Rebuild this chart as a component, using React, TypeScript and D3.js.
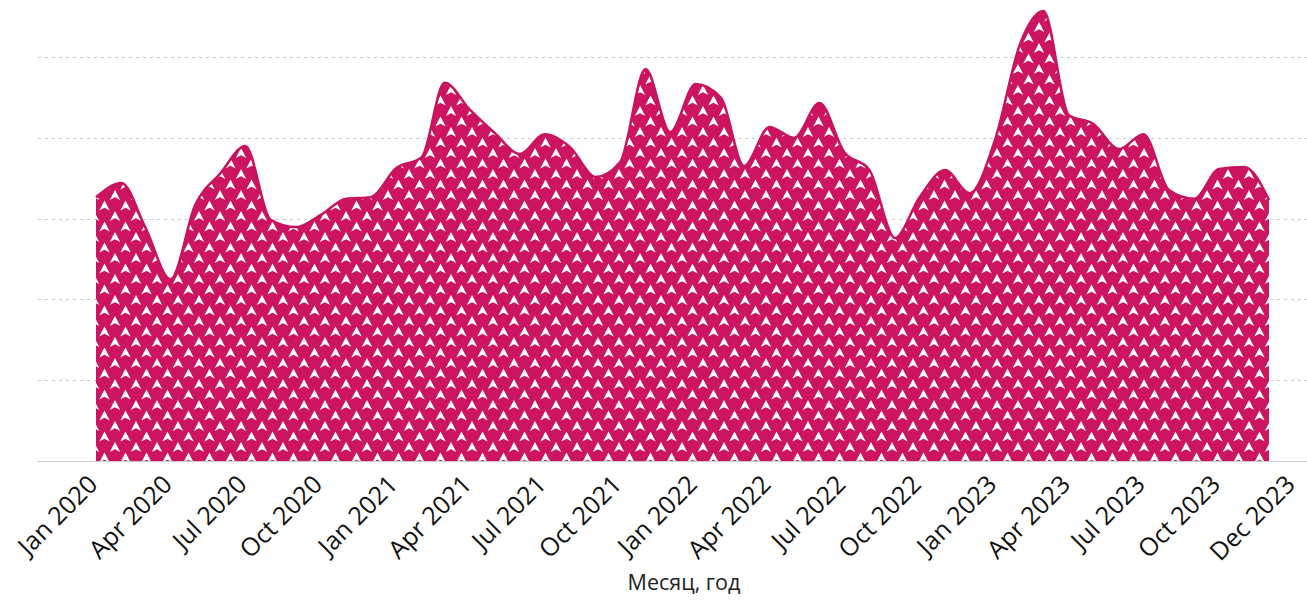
import React from 'react';
import * as d3 from 'd3';

const months: string[] = [
  '2020-01-01','2020-02-01','2020-03-01','2020-04-01','2020-05-01','2020-06-01','2020-07-01','2020-08-01','2020-09-01','2020-10-01','2020-11-01','2020-12-01',
  '2021-01-01','2021-02-01','2021-03-01','2021-04-01','2021-05-01','2021-06-01','2021-07-01','2021-08-01','2021-09-01','2021-10-01','2021-11-01','2021-12-01',
  '2022-01-01','2022-02-01','2022-03-01','2022-04-01','2022-05-01','2022-06-01','2022-07-01','2022-08-01','2022-09-01','2022-10-01','2022-11-01','2022-12-01',
  '2023-01-01','2023-02-01','2023-03-01','2023-04-01','2023-05-01','2023-06-01','2023-07-01','2023-08-01','2023-09-01','2023-10-01','2023-11-01','2023-12-01',
];

const values: number[] = [
  65.3, 68.8, 57.9, 45.0, 63.4, 71.3, 78.0, 59.7, 57.9, 60.9, 64.9, 65.3,
  72.5, 75.2, 93.6, 86.9, 81.2, 76.0, 80.9, 77.7, 70.3, 74.0, 97.0, 81.4,
  93.3, 89.9, 73.0, 82.7, 80.0, 88.6, 76.5, 72.0, 55.2, 65.3, 72.0, 66.3,
  79.5, 103.5, 111.4, 85.6, 83.4, 77.2, 80.9, 67.1, 64.9, 72.3, 72.8, 64.6,
];

const tickDates: string[] = [
  '2020-01-01','2020-04-01','2020-07-01','2020-10-01','2021-01-01','2021-04-01','2021-07-01','2021-10-01',
  '2022-01-01','2022-04-01','2022-07-01','2022-10-01','2023-01-01','2023-04-01','2023-07-01','2023-10-01','2023-12-31',
];
const tickLabels: string[] = [
  'Jan 2020','Apr 2020','Jul 2020','Oct 2020','Jan 2021','Apr 2021','Jul 2021','Oct 2021',
  'Jan 2022','Apr 2022','Jul 2022','Oct 2022','Jan 2023','Apr 2023','Jul 2023','Oct 2023','Dec 2023',
];
const gridValues: number[] = [20, 40, 60, 80, 100];

const xAxisTitle = 'Месяц, год';

const W = 1307;
const H = 602;

const parse = d3.timeParse('%Y-%m-%d');

export default function App() {
  const x = d3
    .scaleTime()
    .domain([parse(months[0]) as Date, parse(months[months.length - 1]) as Date])
    .range([96, 1269]);
  const y = d3.scaleLinear().domain([0, 100]).range([461, 57]);

  const data = months.map((m, i) => ({ d: parse(m) as Date, v: values[i] }));
  const area = d3
    .area<{ d: Date; v: number }>()
    .x((d) => x(d.d))
    .y0(y(0))
    .y1((d) => y(d.v))
    .curve(d3.curveMonotoneX);
  const line = d3
    .line<{ d: Date; v: number }>()
    .x((d) => x(d.d))
    .y((d) => y(d.v))
    .curve(d3.curveMonotoneX);

  const arrow = 'M0,-5 L5.2,5 L0,2.2 L-5.2,5 Z';
  const arrowPos: [number, number][] = [
    [10, 6],
    [20.5, 16.5],
    [-0.5, 16.5],
    [31, 6],
    [-11, 6],
    [10, 27],
    [20.5, -4.5],
    [-0.5, -4.5],
  ];

  return (
    <svg
      width={W}
      height={H}
      style={{ position: 'absolute', left: 0, top: 0, fontFamily: "'Open Sans', sans-serif" }}
    >
      <defs>
        <filter id="soft" x="-50%" y="-50%" width="200%" height="200%">
          <feGaussianBlur stdDeviation="0.5" />
        </filter>
        <pattern id="hearts" width={21} height={21} patternUnits="userSpaceOnUse">
          <rect x={0} y={0} width={21} height={21} fill="#CC1461" />
          <g filter="url(#soft)">
            {arrowPos.map(([ax, ay], i) => (
              <path key={i} d={arrow} transform={`translate(${ax},${ay})`} fill="#ffffff" />
            ))}
          </g>
        </pattern>
      </defs>

      {gridValues.map((g) => (
        <line
          key={g}
          x1={38}
          x2={W}
          y1={Math.round(y(g)) + 0.5}
          y2={Math.round(y(g)) + 0.5}
          stroke="#cccccc"
          strokeWidth={1}
          strokeDasharray="3,4"
        />
      ))}

      <path d={area(data) || ''} fill="url(#hearts)" />
      <path d={line(data) || ''} fill="none" stroke="#C8135E" strokeWidth={2.5} />

      <line x1={37} x2={W} y1={461.5} y2={461.5} stroke="#cccccc" strokeWidth={1} />

      {tickDates.map((t, i) => {
        const tx = x(parse(t) as Date) + 3;
        const ty = 486;
        return (
          <text
            key={t}
            transform={`translate(${tx},${ty}) rotate(-45)`}
            textAnchor="end"
            fontSize={25}
            fill="#111"
          >
            {tickLabels[i]}
          </text>
        );
      })}

      <text x={684} y={590} textAnchor="middle" fontSize={21.5} fill="#222">
        {xAxisTitle}
      </text>
    </svg>
  );
}
